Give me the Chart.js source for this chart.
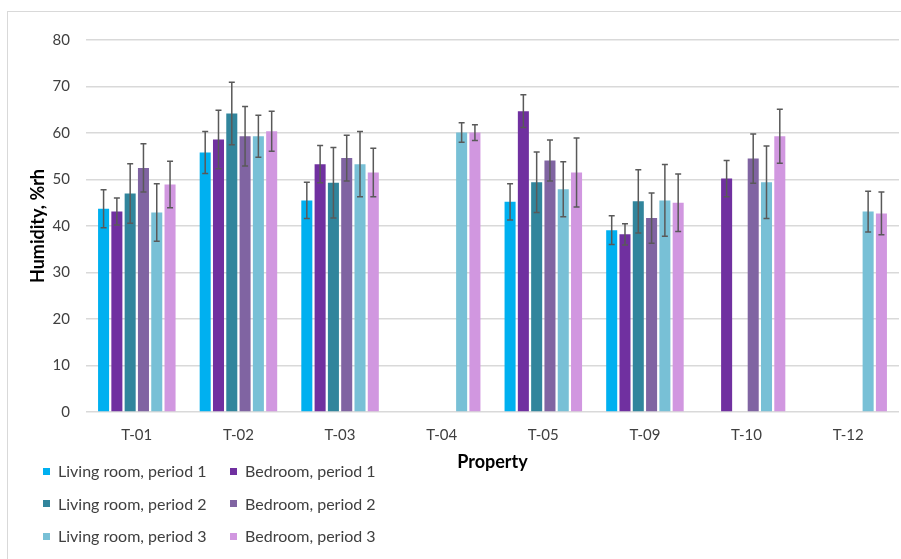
<!DOCTYPE html>
<html>
<head>
<meta charset="utf-8">
<script src="https://cdn.jsdelivr.net/npm/chart.js@4.4.1/dist/chart.umd.min.js"></script>
<style>
  body { margin: 0; background: #fff; font-family: Lato, "Open Sans", sans-serif; }
  #wrap { position: relative; width: 901px; height: 559px; overflow: hidden; }
  #frame { position: absolute; left: 7px; top: 11px; width: 1000px; height: 1000px;
           border-top: 1px solid #d9d9d9; border-left: 1px solid #d9d9d9; }
  canvas { position: absolute; left: 0; top: 0; }
  #legend { position: absolute; left: 43px; top: 461px; width: 400px; }
  .item { position: absolute; display: flex; align-items: center; font-size: 16px; line-height: 20px; color: #404040; white-space: nowrap; }
  .item span.box { width: 7px; height: 7px; margin-right: 8px; }
</style>
</head>
<body>
<div id="wrap">
  <div id="frame"></div>
  <canvas id="humidityChart" width="901" height="559"></canvas>
  <div id="legend"></div>
</div>
<script>
const categories = ['T-01', 'T-02', 'T-03', 'T-04', 'T-05', 'T-09', 'T-10', 'T-12'];

// mean humidity per property
const livingP1 = [43.7, 55.8, 45.5, null, 45.2, 39.1, null, null];
const bedroomP1 = [43.1, 58.6, 53.3, null, 64.7, 38.2, 50.2, null];
const livingP2 = [47.0, 64.2, 49.3, null, 49.4, 45.3, null, null];
const bedroomP2 = [52.5, 59.3, 54.6, null, 54.1, 41.7, 54.5, null];
const livingP3 = [42.9, 59.3, 53.3, 60.1, 47.9, 45.5, 49.4, 43.1];
const bedroomP3 = [48.9, 60.4, 51.5, 60.1, 51.5, 45.0, 59.3, 42.7];

// standard deviation (error bars)
const livingP1Err = [4.1, 4.5, 3.9, null, 3.9, 3.1, null, null];
const bedroomP1Err = [2.9, 6.3, 4.0, null, 3.5, 2.3, 3.9, null];
const livingP2Err = [6.4, 6.7, 7.6, null, 6.5, 6.8, null, null];
const bedroomP2Err = [5.2, 6.4, 4.9, null, 4.4, 5.4, 5.3, null];
const livingP3Err = [6.2, 4.5, 7.0, 2.1, 5.9, 7.7, 7.8, 4.4];
const bedroomP3Err = [5.0, 4.3, 5.2, 1.7, 7.4, 6.2, 5.8, 4.6];

const yTicks = [0, 10, 20, 30, 40, 50, 60, 70, 80];

const series = [
  { label: 'Living room, period 1', data: livingP1, err: livingP1Err, color: '#00b0f0' },
  { label: 'Bedroom, period 1', data: bedroomP1, err: bedroomP1Err, color: '#7030a0' },
  { label: 'Living room, period 2', data: livingP2, err: livingP2Err, color: '#31859c' },
  { label: 'Bedroom, period 2', data: bedroomP2, err: bedroomP2Err, color: '#8064a2' },
  { label: 'Living room, period 3', data: livingP3, err: livingP3Err, color: '#78c0d6' },
  { label: 'Bedroom, period 3', data: bedroomP3, err: bedroomP3Err, color: '#d197e0' }
];

// draws the +/- error bars on top of each bar
const errorBars = {
  id: 'errorBars',
  afterDatasetsDraw(chart) {
    const ctx = chart.ctx;
    const y = chart.scales.y;
    ctx.save();
    ctx.strokeStyle = '#595959';
    ctx.lineWidth = 1.5;
    chart.data.datasets.forEach((ds, i) => {
      const meta = chart.getDatasetMeta(i);
      meta.data.forEach((bar, j) => {
        const v = ds.data[j], e = ds.err[j];
        if (v == null || e == null) return;
        const x = bar.x;
        const top = y.getPixelForValue(v + e);
        const bot = y.getPixelForValue(v - e);
        ctx.beginPath();
        ctx.moveTo(x, top); ctx.lineTo(x, bot);
        ctx.moveTo(x - 3, top); ctx.lineTo(x + 3, top);
        ctx.moveTo(x - 3, bot); ctx.lineTo(x + 3, bot);
        ctx.stroke();
      });
    });
    ctx.restore();
  }
};

const chart = new Chart(document.getElementById('humidityChart'), {
  type: 'bar',
  data: {
    labels: categories,
    datasets: series.map(s => ({
      label: s.label,
      data: s.data,
      err: s.err,
      backgroundColor: s.color,
      borderWidth: 0,
      categoryPercentage: 0.785,
      barPercentage: 0.83
    }))
  },
  options: {
    responsive: false,
    animation: false,
    layout: { padding: { left: 0, right: 2, top: 40, bottom: 86 } },
    plugins: { legend: { display: false }, tooltip: { enabled: false } },
    scales: {
      x: {
        grid: { display: false, drawTicks: false },
        border: { display: false },
        ticks: { color: '#404040', font: { family: 'Lato', size: 15 }, padding: 14, maxRotation: 0 },
        title: { display: true, text: 'Property', color: '#000', font: { family: 'Lato', size: 18, weight: 'bold' }, padding: { top: 0, bottom: 0 } },
        afterFit: s => { s.height = 61; }
      },
      y: {
        min: 0,
        max: 80,
        afterBuildTicks: s => { s.ticks = yTicks.map(v => ({ value: v })); },
        grid: { color: '#d9d9d9', lineWidth: 1.5, drawTicks: false },
        border: { display: false },
        ticks: { color: '#404040', font: { family: 'Lato', size: 15 }, padding: 16 },
        title: { display: true, text: 'Humidity, %rh', color: '#000', font: { family: 'Lato', size: 18, weight: 'bold' }, padding: { top: 27, bottom: 0 } },
        afterFit: s => { s.width = 86; }
      }
    }
  },
  plugins: [errorBars]
});

// legend: two columns, three rows
const legend = document.getElementById('legend');
chart.data.datasets.forEach((ds, i) => {
  const el = document.createElement('div');
  el.className = 'item';
  el.style.left = (i % 2 === 0 ? 0 : 187) + 'px';
  el.style.top = (Math.floor(i / 2) * 32.5) + 'px';
  el.innerHTML = `<span class="box" style="background:${ds.backgroundColor}"></span>${ds.label}`;
  legend.appendChild(el);
});
</script>
</body>
</html>
